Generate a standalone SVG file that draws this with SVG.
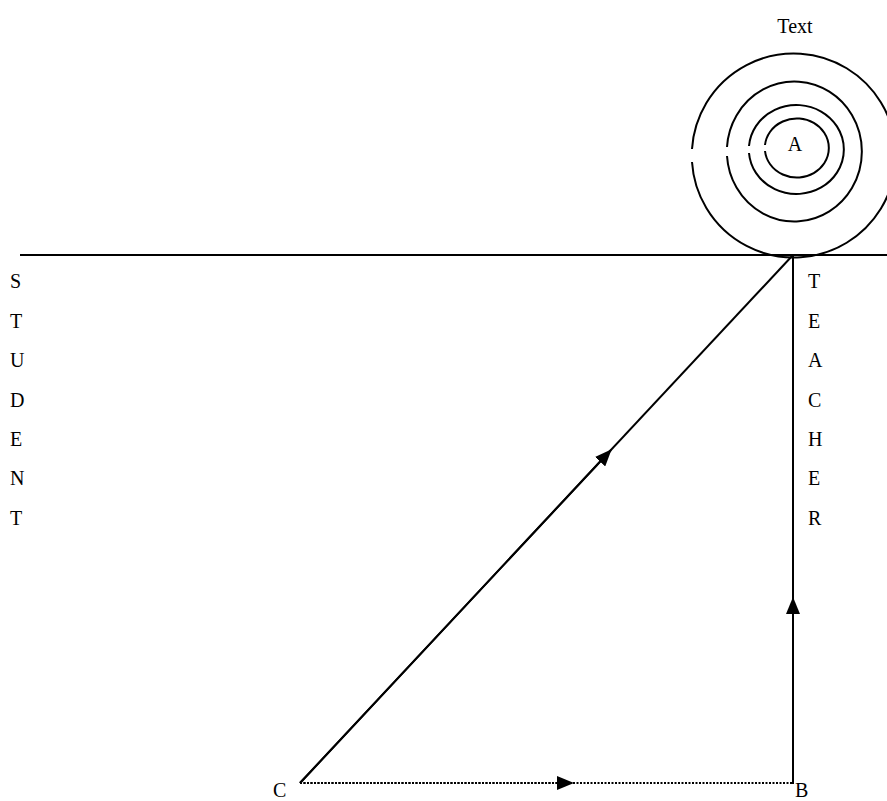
<svg xmlns="http://www.w3.org/2000/svg" width="887" height="801" viewBox="0 0 887 801">
<style>
text{font-family:"Liberation Serif","Times New Roman",serif;font-size:20px;fill:#000}
.ln{stroke:#000;stroke-width:2;fill:none}
.dot{stroke:#000;stroke-width:2;fill:none;stroke-dasharray:2 1.5}
.c{stroke:#000;stroke-width:2;fill:none}
</style>
<defs>
<marker id="ah" markerWidth="18" markerHeight="14" refX="16" refY="7" orient="auto" markerUnits="userSpaceOnUse">
<path d="M0,0 L17,7 L0,14 Z" fill="#000"/>
</marker>
</defs>
<rect width="887" height="801" fill="#fff"/>
<g id="target">
<path class="c" d="M692,149 A102,102 0 1 1 692,162"/>
<path class="c" d="M727,147 A67.5,70 0 1 1 727,156"/>
<path class="c" d="M749,146 A47.5,44.5 0 1 1 749,153"/>
<path class="c" d="M765,145 A32,29.5 0 1 1 765,151"/>
<text x="795" y="151" text-anchor="middle">A</text>
<text x="795" y="33" text-anchor="middle">Text</text>
</g>
<g id="axis">
<line class="ln" x1="20" y1="255" x2="887" y2="255"/>
</g>
<g id="student">
<text x="10" y="288">S</text>
<text x="10" y="328">T</text>
<text x="10" y="367">U</text>
<text x="10" y="407">D</text>
<text x="10" y="446">E</text>
<text x="10" y="485">N</text>
<text x="10" y="525">T</text>
</g>
<g id="teacher">
<text x="808" y="288">T</text>
<text x="808" y="328">E</text>
<text x="808" y="367">A</text>
<text x="808" y="407">C</text>
<text x="808" y="446">H</text>
<text x="808" y="485">E</text>
<text x="808" y="525">R</text>
</g>
<g id="node-C"><text x="273" y="797">C</text></g>
<g id="node-B"><text x="795" y="797">B</text></g>
<g id="connectors">
<line class="ln" x1="300" y1="783" x2="793" y2="255"/>
<line class="ln" x1="300" y1="783" x2="611" y2="450" marker-end="url(#ah)"/>
<line class="ln" x1="793" y1="784" x2="793" y2="255"/>
<line class="ln" x1="793" y1="784" x2="793" y2="598" marker-end="url(#ah)"/>
<line class="dot" x1="300" y1="783" x2="793" y2="783"/>
<line class="dot" x1="300" y1="783" x2="573" y2="783" marker-end="url(#ah)"/>
</g>
</svg>
